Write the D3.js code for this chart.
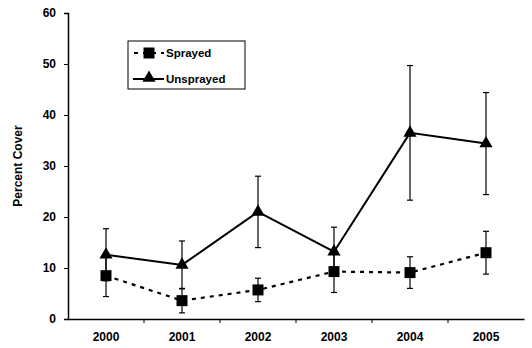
<!DOCTYPE html>
<html><head><meta charset="utf-8">
<script src="https://cdn.jsdelivr.net/npm/d3@7"></script>
<style>body{margin:0;background:#fff}svg{display:block}text{font-family:"Liberation Sans",Arial,sans-serif;font-weight:bold}</style>
</head><body><svg id="c" width="532" height="348"></svg>
<script>
const years = ["2000","2001","2002","2003","2004","2005"];
const sprayed = [8.5, 3.6, 5.7, 9.3, 9.1, 13.0];
const sprayedErr = [4.1, 2.4, 2.3, 4.1, 3.1, 4.2];
const unsprayed = [12.6, 10.6, 21.0, 13.2, 36.5, 34.4];
const unsprayedErr = [5.1, 4.7, 7.0, 4.8, 13.2, 10.0];
const yTicks = [0, 10, 20, 30, 40, 50, 60];

const svg = d3.select("#c");
const m = {l: 68};
const x = d3.scaleBand().domain(years).range([m.l, 524]);
const y = d3.scaleLinear().domain([0, 60]).range([319, 13]);
const cx = d => x(d) + x.bandwidth() / 2;

// axes
const ya = svg.append("g").attr("transform", `translate(${m.l},0)`)
  .call(d3.axisLeft(y).tickValues(yTicks).tickSize(4).tickPadding(8));
ya.select(".domain").attr("stroke", "#000").attr("stroke-width", 1.5);
ya.selectAll("text").attr("font-size", 12).attr("fill", "#000");

const xa = svg.append("g").attr("transform", `translate(0,319)`)
  .call(d3.axisBottom(x).tickSize(0).tickPadding(13));
xa.select(".domain").attr("stroke", "#000").attr("stroke-width", 1.5);
xa.selectAll("text").attr("font-size", 12).attr("fill", "#000");
// band boundary ticks
svg.append("g").selectAll("line").data(years.slice(1)).join("line")
  .attr("x1", d => x(d)).attr("x2", d => x(d)).attr("y1", 319).attr("y2", 323)
  .attr("stroke", "#000");

svg.append("text").attr("transform", "translate(22,166) rotate(-90)")
  .attr("text-anchor", "middle").attr("font-size", 12).text("Percent Cover");

function errBars(vals, errs) {
  const g = svg.append("g").attr("stroke", "#000").attr("stroke-width", 1.2);
  years.forEach((yr, i) => {
    const px = cx(yr), lo = y(vals[i] - errs[i]), hi = y(vals[i] + errs[i]);
    g.append("line").attr("x1", px).attr("x2", px).attr("y1", lo).attr("y2", hi);
    g.append("line").attr("x1", px - 3).attr("x2", px + 3).attr("y1", lo).attr("y2", lo);
    g.append("line").attr("x1", px - 3).attr("x2", px + 3).attr("y1", hi).attr("y2", hi);
  });
}
errBars(sprayed, sprayedErr);
errBars(unsprayed, unsprayedErr);

const line = d3.line().x((d, i) => cx(years[i])).y(d => y(d));
svg.append("path").datum(sprayed).attr("d", line).attr("fill", "none")
  .attr("stroke", "#000").attr("stroke-width", 2.2).attr("stroke-dasharray", "4,5");
svg.append("path").datum(unsprayed).attr("d", line).attr("fill", "none")
  .attr("stroke", "#000").attr("stroke-width", 2);

const sq = d3.symbol().type(d3.symbolSquare).size(121);
const tri = d3.symbol().type(d3.symbolTriangle).size(75);
svg.append("g").selectAll("path").data(sprayed).join("path")
  .attr("d", sq).attr("transform", (d, i) => `translate(${cx(years[i])},${y(d)})`).attr("fill", "#000");
svg.append("g").selectAll("path").data(unsprayed).join("path")
  .attr("d", tri).attr("transform", (d, i) => `translate(${cx(years[i])},${y(d)})`).attr("fill", "#000");

// legend
const lg = svg.append("g");
lg.append("rect").attr("x", 128).attr("y", 41).attr("width", 117).attr("height", 48)
  .attr("fill", "#fff").attr("stroke", "#000").attr("stroke-width", 1);
lg.append("line").attr("x1", 134).attr("x2", 164).attr("y1", 53).attr("y2", 53)
  .attr("stroke", "#000").attr("stroke-width", 2.2).attr("stroke-dasharray", "4,5");
lg.append("path").attr("d", sq).attr("transform", "translate(149,53)");
lg.append("text").attr("x", 166).attr("y", 57).attr("font-size", 11.5).text("Sprayed");
lg.append("line").attr("x1", 133).attr("x2", 164).attr("y1", 79).attr("y2", 79)
  .attr("stroke", "#000").attr("stroke-width", 2);
lg.append("path").attr("d", tri).attr("transform", "translate(149,78)");
lg.append("text").attr("x", 166).attr("y", 83).attr("font-size", 11.5).text("Unsprayed");
</script></body></html>
